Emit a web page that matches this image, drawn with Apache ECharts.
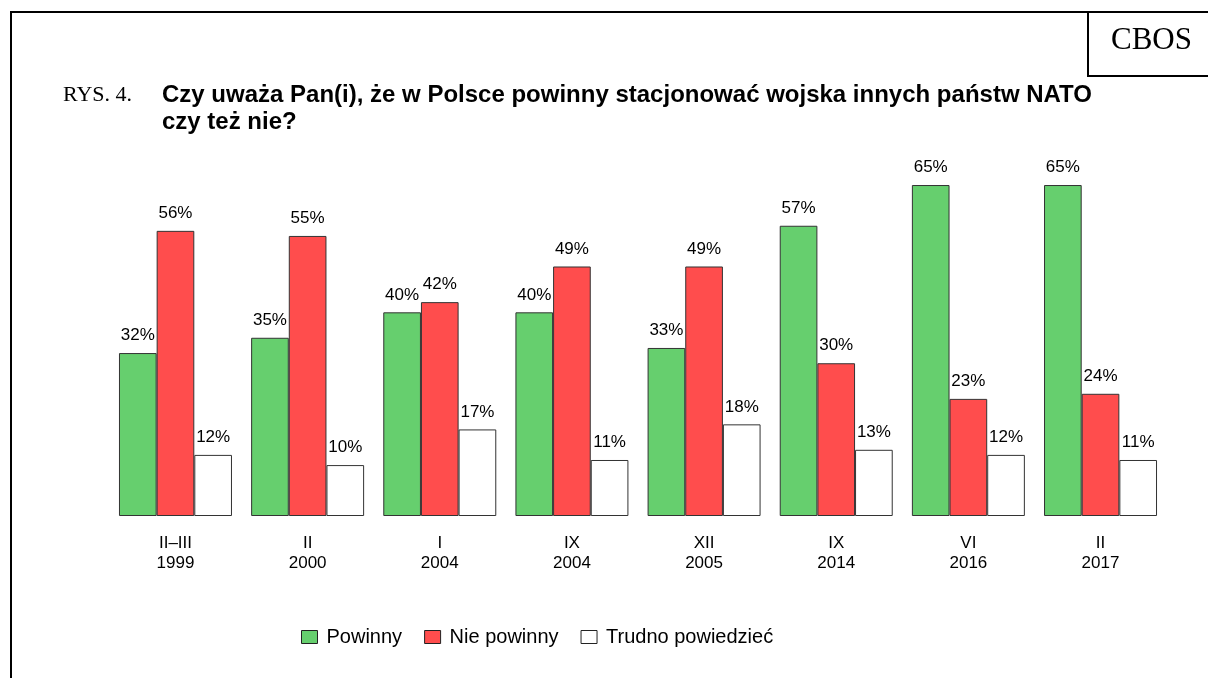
<!DOCTYPE html>
<html>
<head>
<meta charset="utf-8">
<script src="https://cdn.jsdelivr.net/npm/echarts@6/dist/echarts.min.js"></script>
<style>
  html, body { margin: 0; padding: 0; background: #fff; }
  #chart { width: 1208px; height: 678px; }
</style>
</head>
<body>
<div id="chart"></div>
<script>
const categories = ['II–III\n1999', 'II\n2000', 'I\n2004', 'IX\n2004', 'XII\n2005', 'IX\n2014', 'VI\n2016', 'II\n2017']
const powinny = [32, 35, 40, 40, 33, 57, 65, 65]
const niePowinny = [56, 55, 42, 49, 49, 30, 23, 24]
const trudno = [12, 10, 17, 11, 18, 13, 12, 11]
const seriesDefs = [
  { name: 'Powinny', data: powinny, color: '#66cf6e' },
  { name: 'Nie powinny', data: niePowinny, color: '#ff4d4d' },
  { name: 'Trudno powiedzieć', data: trudno, color: '#ffffff' },
]

const SANS = 'Liberation Sans, Arial, sans-serif'
const SERIF = 'Liberation Serif, Times New Roman, serif'

const chart = echarts.init(document.getElementById('chart'), null, { renderer: 'canvas' })
chart.setOption({
  backgroundColor: '#fff',
  animation: false,
  grid: { left: 109.4, right: 41.4, top: 6.8, bottom: 162 },
  legend: {
    left: 296, top: 622,
    itemWidth: 16, itemHeight: 13, itemGap: 22,
    icon: 'rect',
    textStyle: { fontFamily: SANS, fontSize: 20, color: '#000', padding: [0, 0, 0, 4] },
    data: seriesDefs.map(s => ({ name: s.name, itemStyle: { color: s.color, borderColor: '#222', borderWidth: 1 } })),
  },
  xAxis: {
    type: 'category',
    data: categories,
    axisLine: { show: false },
    axisTick: { show: false },
    axisLabel: { fontFamily: SANS, fontSize: 17, color: '#000', lineHeight: 20, margin: 17 },
  },
  yAxis: { type: 'value', min: 0, max: 100, show: false, splitLine: { show: false } },
  series: seriesDefs.map(s => ({
    name: s.name,
    type: 'bar',
    data: s.data,
    barGap: '0%',
    barCategoryGap: '14.5%',
    itemStyle: { color: s.color, borderColor: '#333', borderWidth: 1 },
    label: {
      show: true, position: 'top', distance: 9,
      formatter: '{c}%',
      fontFamily: SANS, fontSize: 17, color: '#000',
    },
  })),
  graphic: [
    { type: 'line', shape: { x1: 11, y1: 12, x2: 1208, y2: 12 }, style: { stroke: '#000', lineWidth: 2 } },
    { type: 'line', shape: { x1: 11, y1: 11, x2: 11, y2: 678 }, style: { stroke: '#000', lineWidth: 2 } },
    { type: 'polyline', shape: { points: [[1088, 12], [1088, 76], [1208, 76]] }, style: { stroke: '#000', lineWidth: 2, fill: null } },
    { type: 'text', left: 1111, top: 25, style: { text: 'CBOS', font: '31px ' + SERIF, fill: '#000' } },
    { type: 'text', left: 63, top: 84, style: { text: 'RYS. 4.', font: '22px ' + SERIF, fill: '#000' } },
    { type: 'text', left: 162, top: 82, style: {
      text: 'Czy uważa Pan(i), że w Polsce powinny stacjonować wojska innych państw NATO\nczy też nie?',
      font: 'bold 24px ' + SANS, lineHeight: 27, fill: '#000' } },
  ],
})
</script>
</body>
</html>
